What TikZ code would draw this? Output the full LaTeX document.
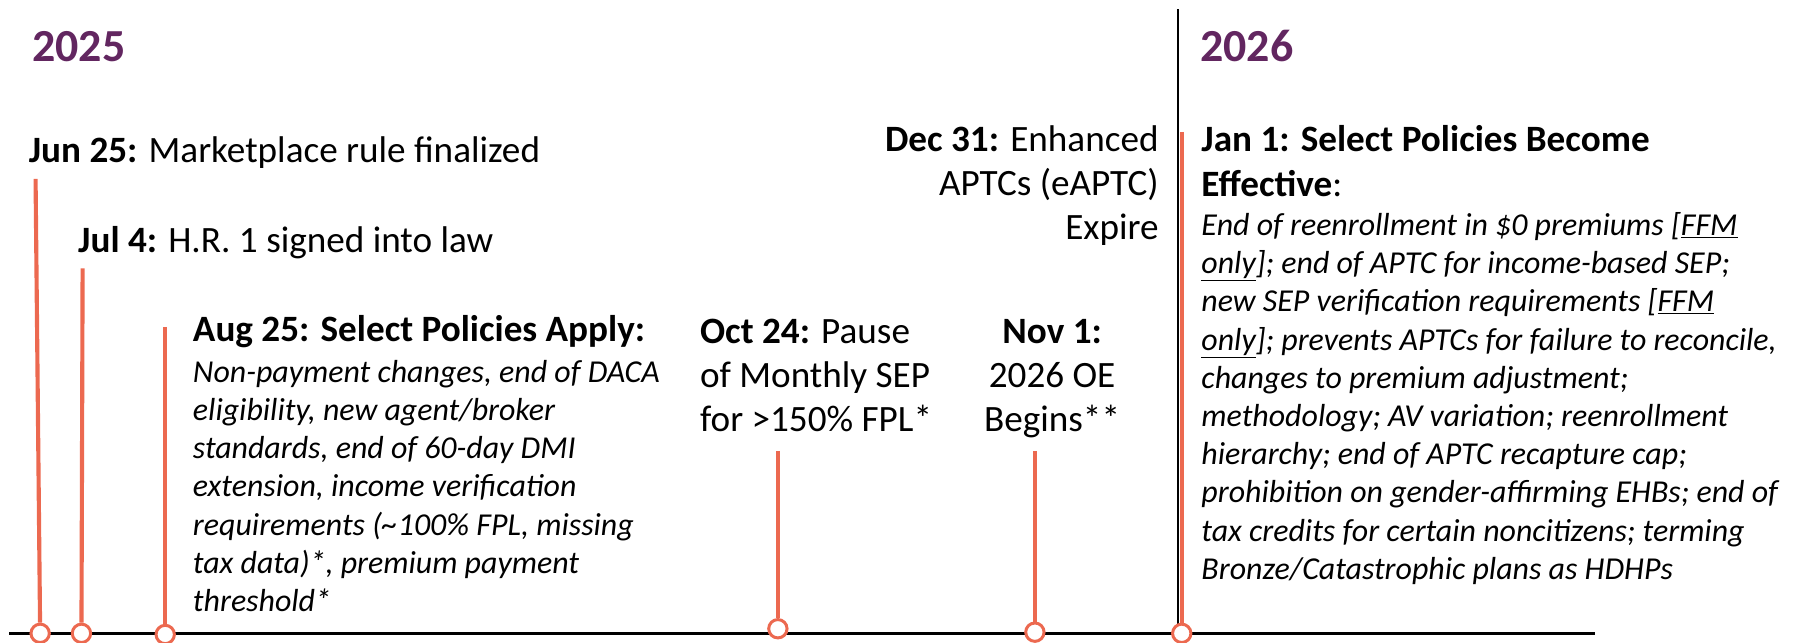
\documentclass[tikz,border=0pt]{standalone}
\usepackage{fontspec}
\setmainfont{Carlito}
\usepackage{tikz}
\usetikzlibrary{positioning}
\usetikzlibrary{backgrounds}

\definecolor{stemorange}{RGB}{236,105,80}
\definecolor{yearpurple}{RGB}{98,38,96}

\newcommand{\datefont}{\fontsize{32.4}{38.6}\selectfont}
\newcommand{\notefont}{\fontsize{27.8}{33.3}\selectfont\itshape}
\newcommand{\yearfont}{\fontsize{40}{48}\selectfont\bfseries}

\tikzstyle{timeline_style}=[
	x=1pt, y=1pt,
	marker/.style={circle,fill=white,draw=stemorange,line width=2.6pt,minimum size=16pt,inner sep=0pt},
	stem/.style={draw=stemorange,line width=3.6pt},
	year/.style={anchor=base west,inner sep=0pt,text=yearpurple,font=\yearfont},
	date_text/.style={inner sep=0pt,font=\datefont},
	note_text/.style={inner sep=0pt,font=\notefont,align=left},
	base_edge/.style={line width=2.6pt},
	divider_edge/.style={line width=2pt}
]

\begin{document}
\begin{tikzpicture}[timeline_style]

		\useasboundingbox (0,-8) rectangle (1568,552);
		
		\node[year]    (y25) at (28,498)   {2025};
		\node[year]    (y26) at (1046,498) {2026};
		
		\coordinate (base_l) at (8,0);
		\coordinate (base_r) at (1390,0);
		\coordinate (div_top) at (1027,544);
		\coordinate (div_bot) at (1027,0);
		
		\path[draw,base_edge] (base_l) -- (base_r);
		\path[draw,divider_edge] (div_top) -- (div_bot);
		
		\node[marker]    (m_jun) at (35,0)   {};
		\node[marker]    (m_jul) at (71,0)   {};
		\node[marker]    (m_aug) at (144,-1) {};
		\node[marker]    (m_oct) at (678,4)  {};
		\node[marker]    (m_nov) at (902,1)  {};
		\node[marker]    (m_jan) at (1030,0) {};
		
		\coordinate (s_jun) at (31,396);
		\coordinate (s_jul) at (72,318);
		\coordinate (s_aug) at (144,267);
		\coordinate (s_oct) at (678,159);
		\coordinate (s_nov) at (902,159);
		\coordinate (s_jan) at (1030,437);
		
		\path[stem] (s_jun) edge (m_jun)
		(s_jul) edge (m_jul)
		(s_aug) edge (m_aug)
		(s_oct) edge (m_oct)
		(s_nov) edge (m_nov)
		(s_jan) edge (m_jan);
		
		\node[date_text,anchor=base west]    (t_jun) at (25,410)  {\textbf{Jun 25:} Marketplace rule finalized};
		\node[date_text,anchor=base west]    (t_jul) at (68,332)  {\textbf{Jul 4:} H.R. 1 signed into law};
		\node[date_text,anchor=base west]    (t_aug) at (168,254) {\textbf{Aug 25: Select Policies Apply:}};
		\node[note_text,anchor=base west]    (n_aug) at (168,19)  {Non-payment changes, end of DACA\\eligibility, new agent/broker\\standards, end of 60-day DMI\\extension, income verification\\requirements (\textasciitilde100\% FPL, missing\\tax data)*, premium payment\\threshold*};
		
		\node[date_text,align=left,anchor=base west]   (t_oct) at (610,175.5) {\textbf{Oct 24:} Pause\\of Monthly SEP\\for {>}150\% FPL*};
		\node[date_text,align=center,anchor=base]      (t_nov) at (917,175.5) {\textbf{Nov 1:}\\2026 OE\\Begins**};
		\node[date_text,align=right,anchor=base east]  (t_dec) at (1010,343)  {\textbf{Dec 31:} Enhanced\\APTCs (eAPTC)\\Expire};
		
		\node[date_text,align=left,anchor=base west]   (t_jan) at (1047,381) {\textbf{Jan 1: Select Policies Become}\\\textbf{Effective}:};
		\node[note_text,anchor=base west]    (n_jan) at (1047,47) {End of reenrollment in \$0 premiums [\underline{FFM}\\\underline{only}]; end of APTC for income-based SEP;\\new SEP verification requirements [\underline{FFM}\\\underline{only}]; prevents APTCs for failure to reconcile,\\changes to premium adjustment;\\methodology; AV variation; reenrollment\\hierarchy; end of APTC recapture cap;\\prohibition on gender-affirming EHBs; end of\\tax credits for certain noncitizens; terming\\Bronze/Catastrophic plans as HDHPs};
		
\end{tikzpicture}
\end{document}
